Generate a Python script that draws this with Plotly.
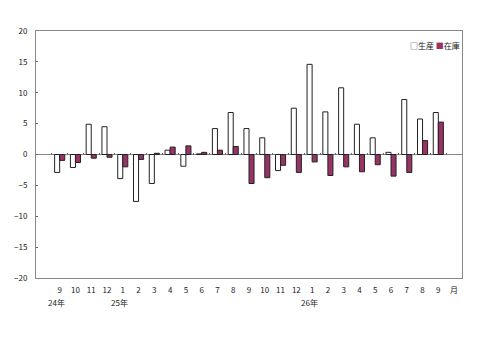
import plotly.graph_objects as go

# categories (index 0 and last are empty slots as in the reference)
month_labels = ["", "9", "10", "11", "12", "1", "2", "3", "4", "5", "6", "7", "8",
                "9", "10", "11", "12", "1", "2", "3", "4", "5", "6", "7", "8", "9", "月"]
production = [None, -2.9, -2.1, 4.9, 4.5, -3.9, -7.6, -4.7, 0.7, -1.9, 0.1, 4.2, 6.8,
              4.2, 2.7, -2.6, 7.5, 14.6, 6.9, 10.8, 4.9, 2.7, 0.35, 8.9, 5.75, 6.8, None]
inventory = [None, -0.95, -1.3, -0.6, -0.45, -2.0, -0.8, 0.2, 1.2, 1.4, 0.35, 0.7, 1.3,
             -4.7, -3.75, -1.75, -2.9, -1.2, -3.4, -2.0, -2.8, -1.65, -3.5, -2.9, 2.25, 5.25, None]
year_labels = ["24年", "25年", "26年"]
year_pos = [1, 5, 17]
y_ticks = [-20, -15, -10, -5, 0, 5, 10, 15, 20]

idx = list(range(len(month_labels)))
FONT = "Noto Sans CJK JP"
PURPLE = "#993366"

fig = go.Figure()
fig.add_trace(go.Bar(x=idx, y=production, name="生産",
                     marker=dict(color="white", line=dict(color="#222222", width=1))))
fig.add_trace(go.Bar(x=idx, y=inventory, name="在庫",
                     marker=dict(color=PURPLE, line=dict(color="#222222", width=1))))
# invisible trace to carry the boundary ticks at zero line
fig.add_trace(go.Scatter(x=[idx[0]], y=[0], xaxis="x2", mode="markers",
                         marker=dict(opacity=0), showlegend=False, hoverinfo="skip"))

fig.update_layout(
    width=480, height=341,
    margin=dict(l=36, r=18, t=31, b=63),
    paper_bgcolor="white", plot_bgcolor="white",
    barmode="group", bargap=0.36, bargroupgap=0.0,
    showlegend=False,
    font=dict(family=FONT, size=8, color="#222222"),
    xaxis=dict(range=[-0.5, len(idx) - 0.5], tickmode="array",
               tickvals=idx, ticktext=month_labels, ticks="",
               showgrid=False, zeroline=False, showline=True,
               linecolor="#888888", linewidth=1, mirror=True,
               tickfont=dict(size=8), ticklabelstandoff=4),
    xaxis2=dict(range=[-0.5, len(idx) - 0.5], overlaying="x", anchor="free",
                position=0.5, side="bottom", tickmode="array",
                tickvals=[i - 0.5 for i in idx[1:]], ticktext=[""] * (len(idx) - 1),
                ticks="inside", ticklen=2, tickcolor="#666666",
                showline=False, showgrid=False, zeroline=False, showticklabels=False),
    yaxis=dict(range=[-20, 20], tickmode="array", tickvals=y_ticks,
               ticks="inside", ticklen=2, tickcolor="#666666",
               showgrid=False, zeroline=True, zerolinecolor="#888888", zerolinewidth=1,
               showline=True, linecolor="#888888", linewidth=1, mirror=True,
               tickfont=dict(size=8), ticklabelstandoff=6),
)

for label, pos in zip(year_labels, year_pos):
    fig.add_annotation(x=pos, y=0, xref="x", yref="paper", yanchor="top",
                       text=label, showarrow=False, yshift=-17, xshift=-3,
                       font=dict(size=8, family=FONT))

fig.add_annotation(x=1, y=0.94, xref="paper", yref="paper", xanchor="right",
                   yanchor="middle", showarrow=False,
                   text="□生産 <span style='color:%s'>■</span>在庫" % PURPLE,
                   font=dict(size=8, family=FONT))

fig.write_html("out.html")
